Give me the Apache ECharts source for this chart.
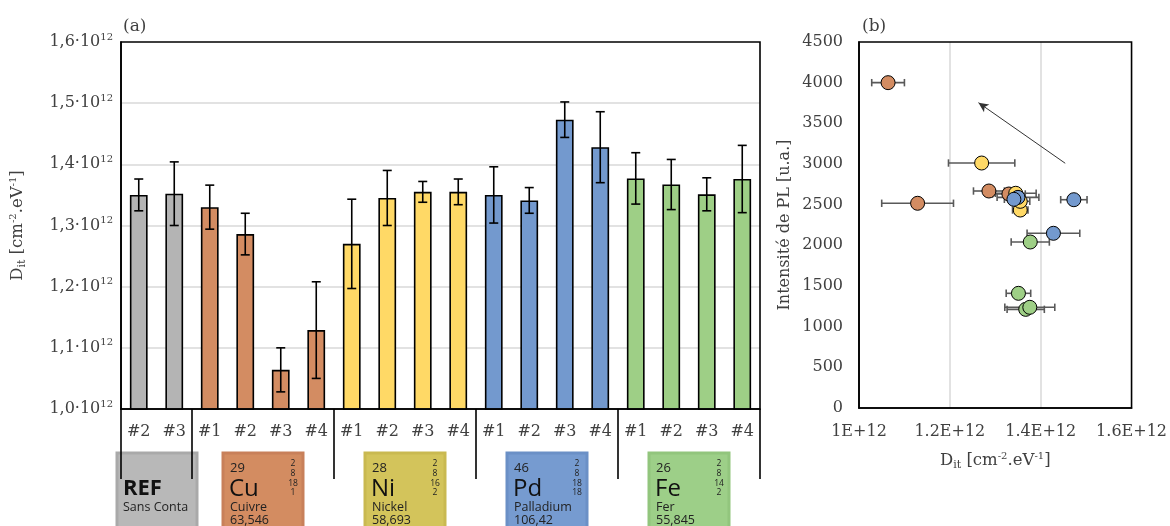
<!DOCTYPE html>
<html><head><meta charset="utf-8">
<script src="https://cdn.jsdelivr.net/npm/echarts@6/dist/echarts.min.js"></script>
<style>html,body{margin:0;padding:0;background:#fff}#c{width:1170px;height:526px}</style>
</head><body><div id="c"></div>
<script>
// ---------- DATA ----------
const groups = ['REF', 'Cu', 'Ni', 'Pd', 'Fe'];
const refSamples = ['#2', '#3'];
const metalSamples = ['#1', '#2', '#3', '#4'];
// Dit in units of 1e12 cm-2.eV-1
const ditREF = [1.350, 1.352];
const errREF = [0.026, 0.052];
const ditCu = [1.330, 1.286, 1.064, 1.129];
const errCu = [0.036, 0.034, 0.036, 0.079];
const ditNi = [1.270, 1.345, 1.355, 1.355];
const errNi = [0.073, 0.045, 0.017, 0.021];
const ditPd = [1.350, 1.341, 1.473, 1.428];
const errPd = [0.046, 0.021, 0.029, 0.058];
const ditFe = [1.377, 1.367, 1.351, 1.376];
const errFe = [0.042, 0.041, 0.027, 0.055];
// PL intensity [u.a.]
const plCu = [2631, 2668, 4000, 2517];
const plNi = [3012, 2640, 2434, 2541];
const plPd = [2590, 2566, 2561, 2148];
const plFe = [2041, 1213, 1410, 1238];
// Arrow annotation (Dit, PL)
const arrowFrom = [1.454, 3009];
const arrowTo = [1.263, 3754];
// Element tiles
const elemNumber = ['', '29', '28', '46', '26'];
const elemName = ['Sans Conta', 'Cuivre', 'Nickel', 'Palladium', 'Fer'];
const elemMass = ['', '63,546', '58,693', '106,42', '55,845'];
const elemShells = [[], ['2','8','18','1'], ['2','8','16','2'], ['2','8','18','18'], ['2','8','14','2']];

// ---------- STYLE ----------
const barColors = ['#b4b4b4', '#d38c62', '#ffd966', '#7399ce', '#9ecf86'];
const tileFill = ['#b8b8b8', '#d38c61', '#d3c45b', '#769bd0', '#9dcf88'];
const tileStroke = ['#a9a9a9', '#c8805a', '#c9b951', '#6b90c6', '#92c57d'];
const SERIF = 'DejaVu Serif';
const SANS = 'Open Sans';
const TXT = '#404040';

// ---------- BUILD ----------
const ditGroups = [ditREF, ditCu, ditNi, ditPd, ditFe];
const errGroups = [errREF, errCu, errNi, errPd, errFe];
const plGroups = [null, plCu, plNi, plPd, plFe];
const categories = [];
const barData = [];
const errData = [];
const groupRanges = [];
ditGroups.forEach((arr, g) => {
  const labels = g === 0 ? refSamples : metalSamples;
  const start = categories.length;
  arr.forEach((v, i) => {
    const idx = categories.length;
    categories.push(labels[i]);
    barData.push({ value: v, itemStyle: { color: barColors[g] } });
    errData.push([idx, v, errGroups[g][i]]);
  });
  groupRanges.push([start, categories.length - 1]);
});
const tickStarts = groupRanges.map(r => r[0]);

function vErrRender(params, api) {
  const x = api.value(0), v = api.value(1), e = api.value(2);
  const hi = api.coord([x, v + e]), lo = api.coord([x, v - e]);
  const hw = 4.5, st = { stroke: '#000', lineWidth: 1.6 };
  return { type: 'group', children: [
    { type: 'line', shape: { x1: hi[0], y1: hi[1], x2: lo[0], y2: lo[1] }, style: st },
    { type: 'line', shape: { x1: hi[0] - hw, y1: hi[1], x2: hi[0] + hw, y2: hi[1] }, style: st },
    { type: 'line', shape: { x1: lo[0] - hw, y1: lo[1], x2: lo[0] + hw, y2: lo[1] }, style: st }
  ]};
}
function hErrRender(params, api) {
  const x = api.value(0), y = api.value(1), e = api.value(2);
  const l = api.coord([x - e, y]), r = api.coord([x + e, y]);
  const hh = 3.7, st = { stroke: '#595959', lineWidth: 1.6 };
  return { type: 'group', children: [
    { type: 'line', shape: { x1: l[0], y1: l[1], x2: r[0], y2: r[1] }, style: st },
    { type: 'line', shape: { x1: l[0], y1: l[1] - hh, x2: l[0], y2: l[1] + hh }, style: st },
    { type: 'line', shape: { x1: r[0], y1: r[1] - hh, x2: r[0], y2: r[1] + hh }, style: st }
  ]};
}

const series = [
  { type: 'bar', xAxisIndex: 0, yAxisIndex: 0, data: barData, barWidth: '50%',
    itemStyle: { borderColor: '#000', borderWidth: 1.6 }, z: 2, silent: true },
  { type: 'custom', xAxisIndex: 0, yAxisIndex: 0, data: errData, renderItem: vErrRender,
    encode: { x: 0, y: 1 }, z: 3, silent: true }
];
for (let g = 1; g < 5; g++) {
  const pts = ditGroups[g].map((v, i) => [v, plGroups[g][i], errGroups[g][i]]);
  series.push({ type: 'custom', xAxisIndex: 1, yAxisIndex: 1, data: pts, renderItem: hErrRender,
    encode: { x: 0, y: 1 }, z: 3, silent: true });
}
for (let g = 1; g < 5; g++) {
  const pts = ditGroups[g].map((v, i) => [v, plGroups[g][i]]);
  const s = { type: 'scatter', xAxisIndex: 1, yAxisIndex: 1, data: pts, symbolSize: 14,
    itemStyle: { color: barColors[g], borderColor: '#000', borderWidth: 1, opacity: 1 }, z: 4, silent: true };
  if (g === 4) {
    s.markLine = { silent: true, symbol: ['none', 'arrow'], symbolSize: [7, 10],
      lineStyle: { color: '#333', width: 1, type: 'solid' }, label: { show: false },
      data: [[{ coord: arrowFrom }, { coord: arrowTo }]] };
  }
  series.push(s);
}

const supRich = {
  a: { fontFamily: SERIF, fontSize: 16, color: TXT, lineHeight: 20 },
  s: { fontFamily: SERIF, fontSize: 10, color: TXT, lineHeight: 10, verticalAlign: 'top' }
};
const nameRich = {
  a: { fontFamily: SERIF, fontSize: 16.5, color: TXT, lineHeight: 20 },
  sub: { fontFamily: SERIF, fontSize: 11, color: TXT, lineHeight: 13, verticalAlign: 'bottom' },
  sup: { fontFamily: SERIF, fontSize: 10, color: TXT, lineHeight: 10, verticalAlign: 'top' }
};
const ditName = '{a|D}{sub|it}{a| [cm}{sup|-2}{a|.eV}{sup|-1}{a|]}';

const option = {
  animation: false,
  backgroundColor: '#fff',
  title: [
    { text: '(a)', left: 118, top: 13, textStyle: { fontFamily: SERIF, fontSize: 17, fontWeight: 'normal', color: TXT } },
    { text: '(b)', left: 857, top: 13, textStyle: { fontFamily: SERIF, fontSize: 17, fontWeight: 'normal', color: TXT } }
  ],
  grid: [
    { left: 121, top: 42, width: 639, height: 367, show: true, borderColor: '#000', borderWidth: 1.6, backgroundColor: 'transparent', z: 5 },
    { left: 859, top: 42, width: 277, height: 366, show: true, borderColor: '#000', borderWidth: 1.6, backgroundColor: 'transparent', z: 5 }
  ],
  xAxis: [
    { type: 'category', gridIndex: 0, data: categories, boundaryGap: true,
      axisLine: { lineStyle: { color: '#000', width: 1.6 } },
      axisTick: { show: true, length: 70, interval: (i) => tickStarts.indexOf(i) >= 0, lineStyle: { color: '#000', width: 1.6 } },
      axisLabel: { interval: 0, margin: 15, fontFamily: SERIF, fontSize: 16, color: TXT },
      splitLine: { show: false } },
    { type: 'value', gridIndex: 1, min: 1.0, max: 1.6, interval: 0.2,
      axisLine: { lineStyle: { color: '#000', width: 1.6 } }, axisTick: { show: false },
      axisLabel: { margin: 16, fontFamily: SERIF, fontSize: 16, color: TXT,
        formatter: v => (Math.abs(v - 1) < 1e-9 ? '1' : v.toFixed(1)) + 'E+12' },
      splitLine: { show: true, showMinLine: false, showMaxLine: false, lineStyle: { color: '#d9d9d9', width: 1.5 } },
      name: ditName, nameLocation: 'middle', nameGap: 43, nameTextStyle: { rich: nameRich } }
  ],
  yAxis: [
    { type: 'value', gridIndex: 0, min: 1.0, max: 1.6, interval: 0.1,
      axisLine: { show: true, lineStyle: { color: '#000', width: 1.6 } }, axisTick: { show: false },
      axisLabel: { margin: 8, rich: supRich,
        formatter: v => '{a|' + v.toFixed(1).replace('.', ',') + '·10}{s|12}' },
      splitLine: { show: true, showMinLine: false, showMaxLine: false, lineStyle: { color: '#d9d9d9', width: 1.5 } },
      name: ditName, nameLocation: 'middle', nameGap: 93, nameRotate: 90, nameTextStyle: { rich: nameRich } },
    { type: 'value', gridIndex: 1, min: 0, max: 4500, interval: 500,
      axisLine: { show: true, lineStyle: { color: '#000', width: 1.6 } }, axisTick: { show: false },
      axisLabel: { margin: 16, fontFamily: SERIF, fontSize: 16, color: TXT, formatter: v => String(v) },
      splitLine: { show: false },
      name: 'Intensité de PL [u.a.]', nameLocation: 'middle', nameGap: 66, nameRotate: 90,
      nameTextStyle: { fontFamily: SERIF, fontSize: 16, color: TXT } }
  ],
  series: series
};

const chart = echarts.init(document.getElementById('c'), null, { renderer: 'canvas' });
chart.setOption(option);

// Element tiles under the groups
const tiles = [];
const TOP = 453, W = 80, H = 90;
groupRanges.forEach((r, g) => {
  const x0 = chart.convertToPixel({ xAxisIndex: 0 }, r[0]);
  const x1 = chart.convertToPixel({ xAxisIndex: 0 }, r[1]);
  const bx = Math.round((x0 + x1) / 2 - W / 2);
  const children = [
    { type: 'rect', shape: { x: bx, y: TOP, width: W, height: H }, style: { fill: tileFill[g], stroke: tileStroke[g], lineWidth: 3 } }
  ];
  if (g === 0) {
    children.push({ type: 'text', style: { text: groups[g], x: bx + 6, y: 489, fontFamily: SANS, fontSize: 22, fontWeight: 'bold', fill: '#111', verticalAlign: 'middle' } });
    children.push({ type: 'text', style: { text: elemName[g], x: bx + 6, y: 507, fontFamily: SANS, fontSize: 12.5, fill: '#222', verticalAlign: 'middle' } });
  } else {
    children.push({ type: 'text', style: { text: elemNumber[g], x: bx + 7, y: 468, fontFamily: SANS, fontSize: 13, fill: '#222', verticalAlign: 'middle' } });
    children.push({ type: 'text', style: { text: groups[g], x: bx + 6, y: 489, fontFamily: SANS, fontSize: 24, fill: '#111', verticalAlign: 'middle' } });
    children.push({ type: 'text', style: { text: elemName[g], x: bx + 7, y: 507.5, fontFamily: SANS, fontSize: 12.5, fill: '#222', verticalAlign: 'middle' } });
    children.push({ type: 'text', style: { text: elemMass[g], x: bx + 7, y: 520.5, fontFamily: SANS, fontSize: 12.5, fill: '#222', verticalAlign: 'middle' } });
    elemShells[g].forEach((s, k) => {
      children.push({ type: 'text', style: { text: s, x: bx + 70, y: 464 + k * 9.6, fontFamily: SANS, fontSize: 8.5, fill: '#222', align: 'center', verticalAlign: 'middle' } });
    });
  }
  tiles.push({ type: 'group', z: 10, children: children });
});
chart.setOption({ graphic: tiles });
</script></body></html>
